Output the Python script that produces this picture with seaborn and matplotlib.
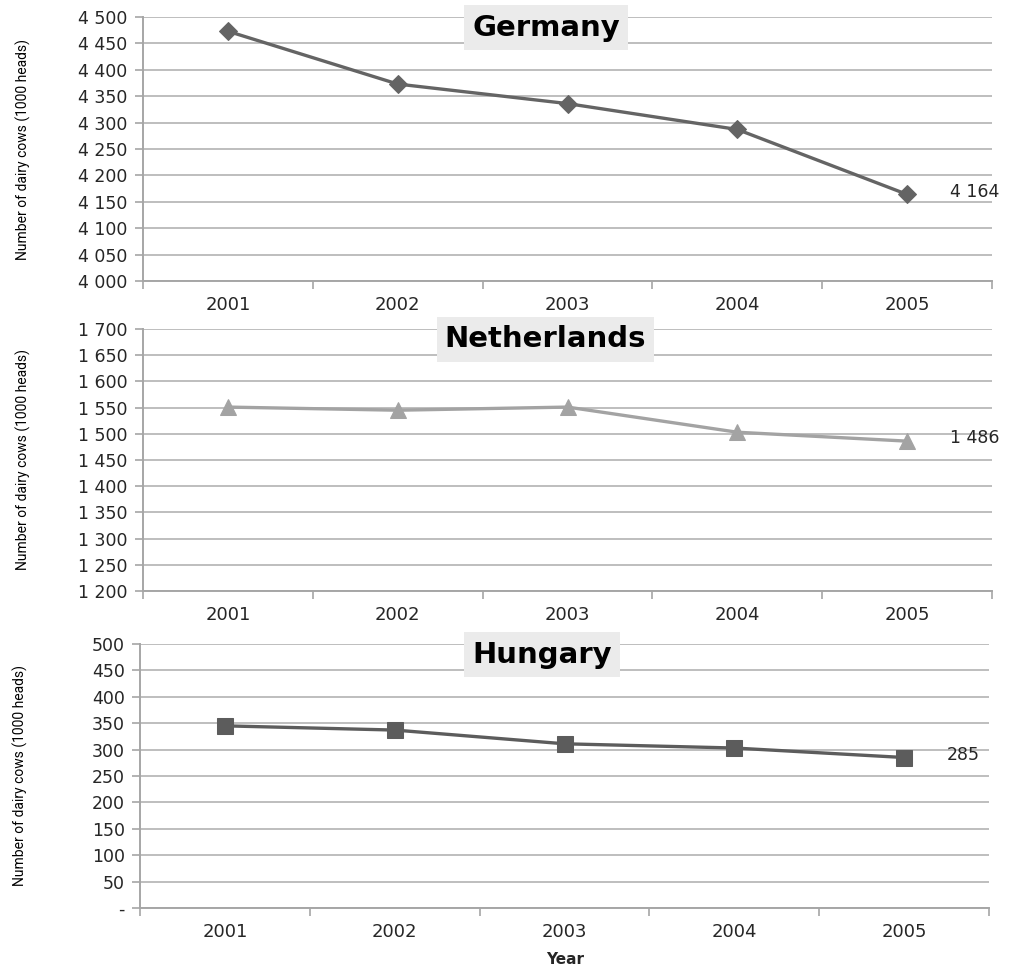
import numpy as np
import pandas as pd
import matplotlib
matplotlib.use("Agg")
import matplotlib.pyplot as plt
from matplotlib.ticker import FuncFormatter, MultipleLocator
import seaborn as sns

# Dairy cow numbers (1000 heads) per country and year
years = [2001, 2002, 2003, 2004, 2005]
germany = [4473, 4373, 4336, 4287, 4164]
netherlands = [1551, 1545, 1551, 1503, 1486]
hungary = [345, 337, 311, 303, 285]

countries = ["Germany", "Netherlands", "Hungary"]
series = [germany, netherlands, hungary]
y_limits = [(4000, 4500), (1200, 1700), (0, 500)]

sns.set_style("white")
plt.rcParams["font.family"] = ["DejaVu Sans"]

GRID = "#b3b3b3"
AXIS = "#a6a6a6"
TEXT = "#262626"

line_styles = [
    dict(color="#646464", marker="D", markersize=9),
    dict(color="#a3a3a3", marker="^", markersize=12),
    dict(color="#5c5c5c", marker="s", markersize=12),
]

# axes rectangles in pixels: left, top, right, bottom
W, H = 1013, 968
rects = [
    (143, 17, 992, 281),
    (143, 329, 992, 591),
    (140, 644, 989, 908),
]


def thousands(v, _pos):
    if abs(v) < 1e-9:
        return "-"
    return f"{int(round(v)):,}".replace(",", " ")


fig = plt.figure(figsize=(W / 100, H / 100), dpi=100)

title_x = [0.475, 0.474, 0.474]
for i, (name, vals, lim, (x0, y0, x1, y1)) in enumerate(
    zip(countries, series, y_limits, rects)
):
    ax = fig.add_axes([x0 / W, 1 - y1 / H, (x1 - x0) / W, (y1 - y0) / H])
    df = pd.DataFrame({"pos": np.arange(len(years)), "value": vals})
    st = line_styles[i]
    sns.lineplot(
        data=df, x="pos", y="value", ax=ax, color=st["color"], linewidth=2.4,
        marker=st["marker"], markersize=st["markersize"],
        markeredgecolor=st["color"], markerfacecolor=st["color"], zorder=3,
    )
    ax.set_xlim(-0.5, len(years) - 0.5)
    ax.set_ylim(*lim)

    # y axis: gridlines every 50, outward ticks
    ax.yaxis.set_major_locator(MultipleLocator(50))
    ax.yaxis.set_major_formatter(FuncFormatter(thousands))
    ax.grid(axis="y", color=GRID, linewidth=1.2, zorder=0)
    ax.grid(axis="x", visible=False)
    ax.tick_params(axis="y", direction="out", length=6, width=1.2,
                   color=AXIS, labelsize=12.5, labelcolor=TEXT, pad=5, left=True)

    # x axis: tick marks between categories, labels at category centres
    ax.set_xticks(np.arange(-0.5, len(years), 1.0))
    ax.set_xticklabels([])
    ax.set_xticks(np.arange(len(years)), minor=True)
    ax.set_xticklabels([str(y) for y in years], minor=True)
    ax.tick_params(axis="x", which="major", direction="out", length=6,
                   width=1.2, color=AXIS, bottom=True)
    ax.tick_params(axis="x", which="minor", length=0, labelsize=13,
                   labelcolor=TEXT, pad=11)

    for side in ("top", "right"):
        ax.spines[side].set_visible(False)
    for side in ("left", "bottom"):
        ax.spines[side].set_color(AXIS)
        ax.spines[side].set_linewidth(1.4)

    ax.set_xlabel("")
    ax.set_ylabel("Number of dairy cows (1000 heads)",
                  family=["Roboto", "DejaVu Sans"],
                  fontsize=10, color="black")
    ax.yaxis.set_label_coords(-0.132, 0.5)

    ax.text(title_x[i], 0.96, name, transform=ax.transAxes, ha="center",
            va="center", fontsize=21, fontweight="bold", color="black",
            zorder=5,
            bbox=dict(boxstyle="square,pad=0.28", facecolor="#ebebeb",
                      edgecolor="none"))

    last = len(years) - 1
    ax.annotate(thousands(vals[last], None), xy=(last, vals[last]),
                xytext=(31, 2), textcoords="offset points", ha="left",
                va="center", fontsize=12.5, color=TEXT)

fig.text(565 / W, 1 - 960 / H, "Year", ha="center", va="center",
         fontsize=11, fontweight="bold", color=TEXT)

fig.savefig("out.png", dpi=100)
